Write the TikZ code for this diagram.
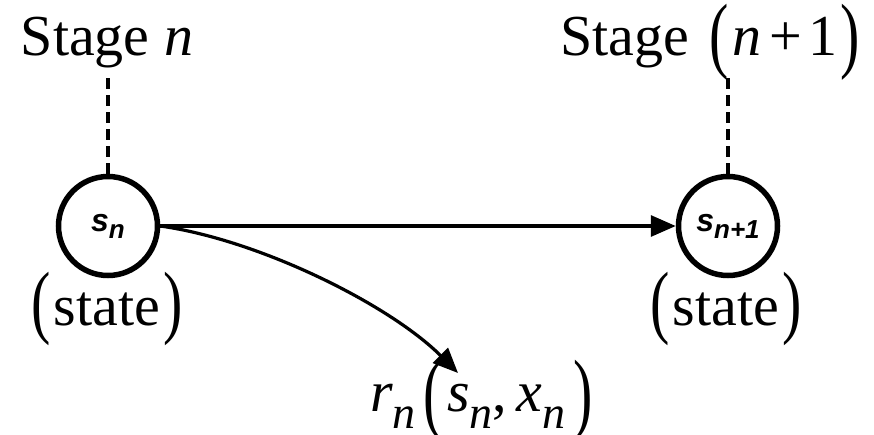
\documentclass[tikz,border=0pt]{standalone}
\usepackage{fontspec}
\setmainfont{Liberation Serif}
\setsansfont{Liberation Sans}
\usetikzlibrary{arrows.meta}
% tall delimiter: scale, lowering, glyph
\newcommand{\tparen}[3]{\raisebox{#2}{\scalebox{1}[#1]{#3}}}
\newcommand{\lowsub}[1]{\raisebox{-17pt}{\fontsize{46}{46}\selectfont\textit{#1}}}

\begin{document}
\begin{tikzpicture}[x=1pt,y=-1pt,
  statenode/.style={circle,draw,line width=5.5pt,minimum size=99pt,inner sep=0pt,
    font=\sffamily\bfseries\itshape\fontsize{32}{32}\selectfont},
  lbl/.style={inner sep=0pt,font=\rmfamily\fontsize{58}{58}\selectfont},
  stagelink/.style={line width=3.2pt,dash pattern=on 11pt off 6pt},
  flow/.style={line width=3.2pt,-{Triangle[length=25pt,width=21pt]}}]
  \useasboundingbox (0,0) rectangle (874,434);
  % states
  \node[statenode] (sn) at (108,226) {s\raisebox{-7pt}{\fontsize{26}{26}\selectfont n}};
  \node[statenode] (snext) at (728,226) {s\raisebox{-7pt}{\fontsize{26}{26}\selectfont n+1}};
  % stage labels
  \node[lbl,anchor=base] (stagen) at (107,55) {Stage \textit{n}};
  \node[lbl,anchor=base] (stagenext) at (710,55)
    {Stage\hspace{20pt}\tparen{1.45}{-7.5pt}{(}\hspace{4pt}\textit{n}\hspace{8pt}+\hspace{6pt}1\hspace{3pt}\tparen{1.45}{-7.5pt}{)}};
  \node[lbl,anchor=base] (staten) at (107,325) {\tparen{1.4}{-3pt}{(}\hspace{3pt}state\hspace{3pt}\tparen{1.4}{-3pt}{)}};
  \node[lbl,anchor=base] (statenext) at (726,325) {\tparen{1.4}{-3pt}{(}\hspace{3pt}state\hspace{3pt}\tparen{1.4}{-3pt}{)}};
  \node[lbl,anchor=base west] (reward) at (370,411)
    {\textit{r}\lowsub{n}\hspace{8pt}\tparen{1.55}{-11pt}{(}\hspace{4pt}\textit{s}\lowsub{n},\hspace{9pt}\textit{x}\lowsub{n}\hspace{8pt}\tparen{1.55}{-11pt}{)}};
  % links
  \coordinate (stagen-foot) at (108,75);
  \coordinate (stagenext-foot) at (728,77);
  \draw[stagelink] (sn) -- (stagen-foot);
  \draw[stagelink] (snext) -- (stagenext-foot);
  \draw[flow] (sn) -- (snext);
  \coordinate (rtip) at (458,373);
  \draw[flow] (sn.east) .. controls (260,240) and (390,305) .. (rtip);
\end{tikzpicture}
\end{document}
